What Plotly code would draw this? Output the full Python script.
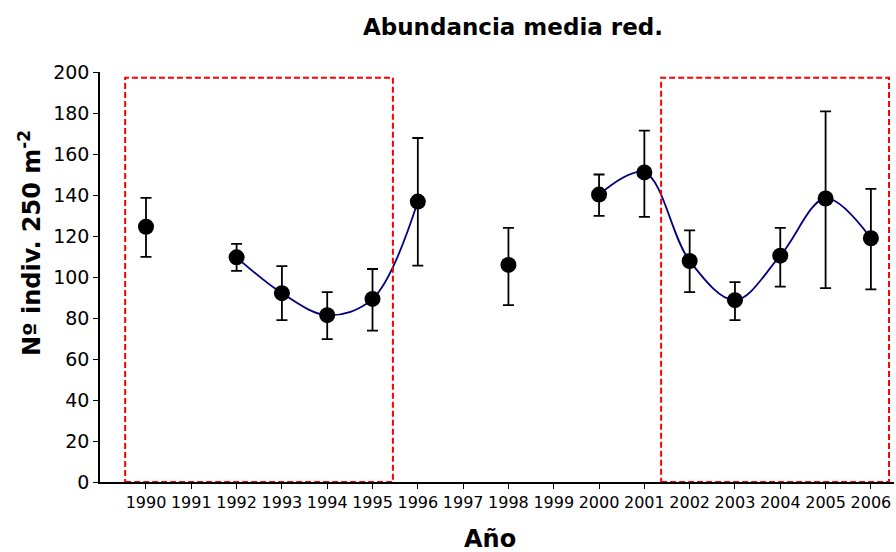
import plotly.graph_objects as go

# ---- data ----
years = [1990, 1992, 1993, 1994, 1995, 1996, 1998, 2000, 2001, 2002, 2003, 2004, 2005, 2006]
means = [124.5, 109.6, 92.1, 81.4, 89.3, 136.8, 105.9, 140.2, 151.0, 107.8, 88.7, 110.4, 138.3, 118.9]
upper = [138.6, 116.2, 105.3, 92.6, 103.9, 167.8, 124.0, 150.0, 171.4, 122.7, 97.5, 124.0, 180.8, 143.0]
lower = [109.8, 103.0, 79.0, 69.7, 73.8, 105.5, 86.3, 129.8, 129.3, 92.6, 79.0, 95.3, 94.6, 94.0]

# smoothed-line segments (years joined by the curve)
line_segments = [[1992, 1993, 1994, 1995, 1996],
                 [2000, 2001, 2002, 2003, 2004, 2005, 2006]]

# highlighted periods (dashed boxes): x-start, x-end, top value
boxes = [(1989.54, 1995.45, 197.2), (2001.37, 2006.40, 197.2)]

tick_years = list(range(1990, 2007))
y_ticks = list(range(0, 201, 20))

title_text = "Abundancia media red."
x_title = "Año"
y_title = "Nº indiv. 250 m<sup>-2</sup>"

FONT = "DejaVu Sans, Verdana, sans-serif"

# ---- build line data ----
lx, ly = [], []
for seg in line_segments:
    for yr in seg:
        lx.append(yr)
        ly.append(means[years.index(yr)])
    lx.append(None)
    ly.append(None)

fig = go.Figure()

fig.add_trace(go.Scatter(
    x=lx, y=ly, mode="lines",
    line=dict(color="#000080", width=1.8, shape="spline", smoothing=1.0),
    connectgaps=False, hoverinfo="skip", showlegend=False))

fig.add_trace(go.Scatter(
    x=years, y=means, mode="markers",
    marker=dict(color="black", size=16),
    error_y=dict(type="data", symmetric=False,
                 array=[u - m for u, m in zip(upper, means)],
                 arrayminus=[m - l for m, l in zip(means, lower)],
                 color="black", thickness=1.8, width=5.5),
    showlegend=False))

for x0, x1, top in boxes:
    fig.add_shape(type="rect", xref="x", yref="y", x0=x0, x1=x1, y0=0, y1=top,
                  line=dict(color="#ff0000", width=2, dash="6px,3px"),
                  fillcolor="rgba(0,0,0,0)", layer="above")

fig.update_layout(
    width=896, height=552,
    margin=dict(l=100, r=2, t=72, b=70),
    paper_bgcolor="white", plot_bgcolor="white",
    font=dict(family=FONT, color="black"),
    title=dict(text="<b>" + title_text + "</b>", x=0.5725, xref="container",
               xanchor="center", y=1 - 27 / 552, yref="container", yanchor="middle",
               font=dict(size=23, family=FONT, color="black")),
    xaxis=dict(range=[1988.985, 2006.51], tickmode="array", tickvals=tick_years,
               ticktext=[str(t) for t in tick_years],
               showline=True, linecolor="black", linewidth=1.5,
               ticks="outside", ticklen=5, tickwidth=1.2, tickcolor="black",
               showgrid=False, zeroline=False,
               tickfont=dict(size=16, family=FONT, color="black")),
    yaxis=dict(range=[0, 200], tickmode="array", tickvals=y_ticks,
               showline=True, linecolor="black", linewidth=1.5,
               ticks="outside", ticklen=5, tickwidth=1.2, tickcolor="black",
               showgrid=False, zeroline=False,
               tickfont=dict(size=19, family=FONT, color="black")),
    annotations=[
        dict(text="<b>" + x_title + "</b>", xref="paper", yref="paper",
             x=(490 - 100) / 794, y=(482 - 539) / 410, xanchor="center", yanchor="middle",
             showarrow=False, font=dict(size=24, family=FONT, color="black")),
        dict(text="<b>" + y_title + "</b>", xref="paper", yref="paper",
             x=(30 - 100) / 794, y=(482 - 243) / 410, xanchor="center", yanchor="middle",
             textangle=-90, showarrow=False, font=dict(size=24, family=FONT, color="black")),
    ],
)

fig.write_html("out.html")
